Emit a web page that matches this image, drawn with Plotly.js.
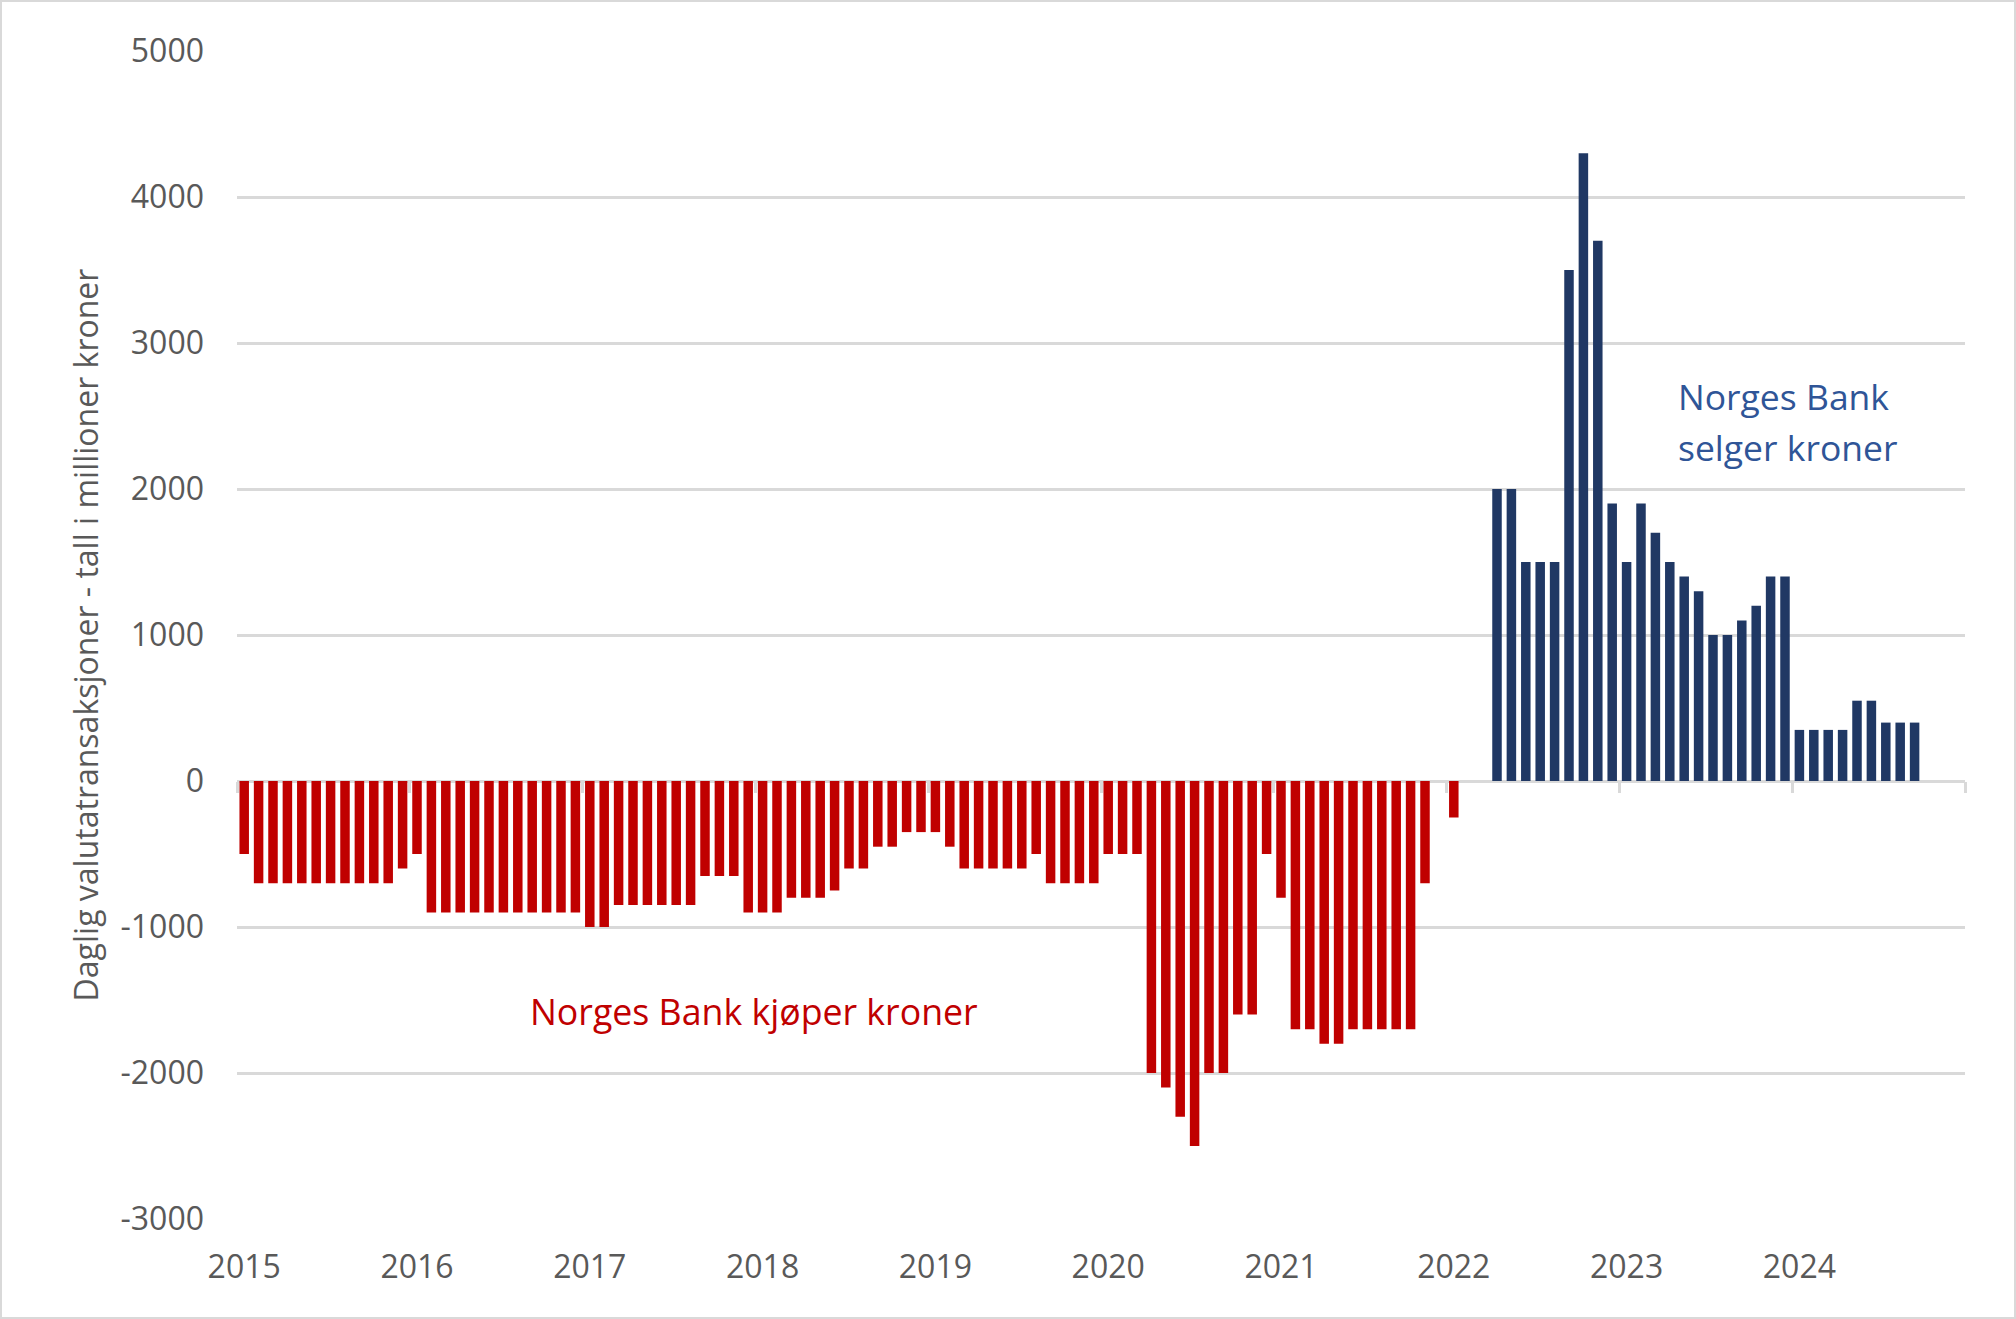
<!DOCTYPE html>
<html>
<head>
<meta charset="utf-8">
<script src="https://cdn.plot.ly/plotly-3.0.1.min.js"></script>
<style>
  html, body { margin: 0; padding: 0; background: #ffffff; }
  #wrap { position: relative; width: 2016px; height: 1319px; }
  #chart { width: 2016px; height: 1319px; }
  #frame { position: absolute; left: 0; top: 0; width: 2016px; height: 1319px; box-sizing: border-box; border: 2px solid #d9d9d9; pointer-events: none; }
</style>
</head>
<body>
<div id="wrap"><div id="chart"></div><div id="frame"></div></div>
<script>
// Monthly values, Jan 2015 - Sep 2024 (million NOK per day)
const startYear = 2015;
const years = [2015, 2016, 2017, 2018, 2019, 2020, 2021, 2022, 2023, 2024];
const v2015 = [-500, -700, -700, -700, -700, -700, -700, -700, -700, -700, -700, -600];
const v2016 = [-500, -900, -900, -900, -900, -900, -900, -900, -900, -900, -900, -900];
const v2017 = [-1000, -1000, -850, -850, -850, -850, -850, -850, -650, -650, -650, -900];
const v2018 = [-900, -900, -800, -800, -800, -750, -600, -600, -450, -450, -350, -350];
const v2019 = [-350, -450, -600, -600, -600, -600, -600, -500, -700, -700, -700, -700];
const v2020 = [-500, -500, -500, -2000, -2100, -2300, -2500, -2000, -2000, -1600, -1600, -500];
const v2021 = [-800, -1700, -1700, -1800, -1800, -1700, -1700, -1700, -1700, -1700, -700, 0];
const v2022 = [-250, 0, 0, 2000, 2000, 1500, 1500, 1500, 3500, 4300, 3700, 1900];
const v2023 = [1500, 1900, 1700, 1500, 1400, 1300, 1000, 1000, 1100, 1200, 1400, 1400];
const v2024 = [350, 350, 350, 350, 550, 550, 400, 400, 400];
const yTicks = [-3000, -2000, -1000, 0, 1000, 2000, 3000, 4000, 5000];
const labelBuy = 'Norges Bank kjøper kroner';
const labelSell1 = 'Norges Bank';
const labelSell2 = 'selger kroner';
const yTitle = 'Daglig valutatransaksjoner - tall i millioner kroner';

const values = [].concat(v2015, v2016, v2017, v2018, v2019, v2020, v2021, v2022, v2023, v2024);
const xIdx = values.map((_, i) => i);
const colors = values.map(v => v < 0 ? '#C00000' : '#203864');
const nMonths = years.length * 12;
const boundaries = [];
for (let k = 0; k <= years.length; k++) boundaries.push(k * 12 - 0.5);

const gray = '#595959';
const font = 'Open Sans, sans-serif';

const data = [{
  type: 'bar',
  x: xIdx,
  y: values,
  marker: { color: colors, line: { width: 0 } },
  width: 0.66,
  hoverinfo: 'skip'
}];

// invisible trace on xaxis2 so the year-boundary ticks on the zero line render
data.push({
  type: 'scatter', x: [0], y: [0], xaxis: 'x2', yaxis: 'y',
  mode: 'markers', marker: { opacity: 0 }, hoverinfo: 'skip', showlegend: false
});

const layout = {
  width: 2016,
  height: 1319,
  margin: { l: 237, r: 51, t: 51, b: 100, pad: 0 },
  paper_bgcolor: '#ffffff',
  plot_bgcolor: '#ffffff',
  showlegend: false,
  font: { family: font, color: gray },
  xaxis: {
    range: [-0.5, nMonths - 0.5],
    tickvals: years.map((y, k) => k * 12),
    ticktext: years.map(String),
    ticks: '',
    showgrid: false,
    zeroline: false,
    showline: false,
    tickfont: { family: font, size: 32, color: gray },
    ticklabelstandoff: 26,
    fixedrange: true
  },
  xaxis2: {
    overlaying: 'x',
    matches: 'x',
    anchor: 'free',
    position: 3 / 8,
    range: [-0.5, nMonths - 0.5],
    tickvals: boundaries,
    ticks: 'outside',
    ticklen: 11,
    tickwidth: 3,
    tickcolor: '#D9D9D9',
    showticklabels: false,
    showgrid: false,
    zeroline: false,
    showline: false
  },
  yaxis: {
    range: [-3000, 5000],
    tickvals: yTicks,
    ticktext: yTicks.map(String),
    ticks: '',
    showgrid: true,
    gridcolor: '#D9D9D9',
    gridwidth: 3,
    zeroline: true,
    zerolinecolor: '#D9D9D9',
    zerolinewidth: 3,
    showline: false,
    tickfont: { family: font, size: 32, color: gray },
    ticklabelstandoff: 32,
    title: { text: yTitle, font: { family: font, size: 32, color: gray }, standoff: 12 },
    fixedrange: true
  },
  annotations: [
    {
      xref: 'x', yref: 'y',
      x: 35.4, y: -1575,
      text: labelBuy,
      showarrow: false,
      xanchor: 'center', yanchor: 'middle',
      font: { family: font, size: 35.7, color: '#C00000' }
    },
    {
      xref: 'x', yref: 'y',
      x: 99.4, y: 2640,
      text: labelSell1,
      showarrow: false,
      xanchor: 'left', yanchor: 'middle',
      font: { family: font, size: 35.5, color: '#2F5597' }
    },
    {
      xref: 'x', yref: 'y',
      x: 99.4, y: 2290,
      text: labelSell2,
      showarrow: false,
      xanchor: 'left', yanchor: 'middle',
      font: { family: font, size: 35.5, color: '#2F5597' }
    }
  ]
};

Plotly.newPlot('chart', data, layout, { displayModeBar: false, staticPlot: true });
</script>
</body>
</html>
